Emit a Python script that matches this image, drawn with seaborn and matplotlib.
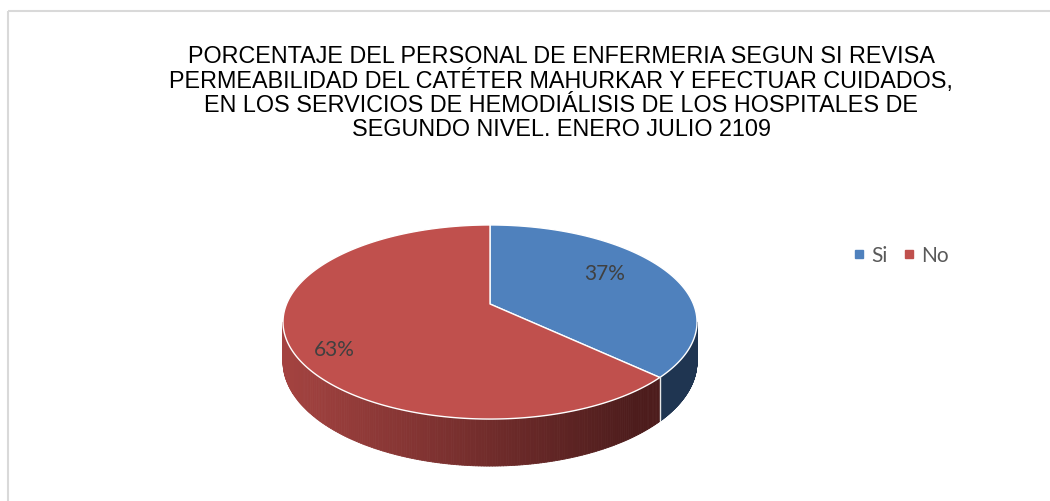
import numpy as np
import matplotlib
matplotlib.use("Agg")
import matplotlib.pyplot as plt
import seaborn as sns
from matplotlib.patches import Polygon, Rectangle
from matplotlib.collections import PolyCollection
from matplotlib.lines import Line2D

# ---- data ----
categories = ["Si", "No"]
percentages = [37, 63]
title_lines = [
    "PORCENTAJE DEL PERSONAL DE ENFERMERIA SEGUN SI REVISA",
    "PERMEABILIDAD DEL CATÉTER MAHURKAR Y EFECTUAR CUIDADOS,",
    "EN LOS SERVICIOS DE HEMODIÁLISIS DE LOS HOSPITALES DE",
    "SEGUNDO NIVEL. ENERO JULIO 2109",
]

# ---- style ----
sns.set_style("white")
top_colors = ["#4F81BD", "#C0504D"]
side_blue = "#1F3551"
red_side_light = np.array([0.64, 0.26, 0.25])
red_side_dark = np.array([0.30, 0.11, 0.11])

# geometry (pixels) of the projected pie
CX, CY = 490.0, 305.0
A, B, K = 203.4, 93.7, 0.1856
H = 38.3


def proj(phi, r=1.0, drop=0.0):
    X = r * np.cos(phi)
    Z = -r * np.sin(phi)
    d = 1 - K * Z
    return CX + A * X / d, CY + B * Z / d + drop / d


fig = plt.figure(figsize=(10.5, 5.02), dpi=100)
ax = fig.add_axes([0, 0, 1, 1])
ax.set_xlim(0, 1050)
ax.set_ylim(502, 0)
ax.axis("off")

# chart border (only top/left visible)
ax.add_patch(Rectangle((8, 12), 1100, 600, fill=False, ec="#D9D9D9", lw=1.5))

# slice angles (start at top, clockwise)
fracs = np.array(percentages, float) / sum(percentages)
starts = np.pi / 2 - 2 * np.pi * np.concatenate([[0], np.cumsum(fracs)[:-1]])
ends = starts - 2 * np.pi * fracs

# visible outer wall range
phi_r = -np.arcsin(K)
phi_l = -np.pi + np.arcsin(K)

for i in range(len(percentages)):
    s, e = starts[i], ends[i]
    ws = min(s, phi_r)
    we = max(e, phi_l)
    if ws > we:
        phis = np.linspace(ws, we, 200)
        polys, cols = [], []
        for j in range(len(phis) - 1):
            p0, p1 = phis[j], phis[j + 1]
            x0, y0 = proj(p0)
            x1, y1 = proj(p1)
            x0b, y0b = proj(p0, drop=H)
            x1b, y1b = proj(p1, drop=H)
            polys.append([(x0, y0), (x1, y1), (x1b, y1b), (x0b, y0b)])
            if i == 0:
                cols.append(side_blue)
            else:
                t = np.clip(((x0 + x1) / 2 - (CX - A)) / (2 * A * 0.86), 0, 1)
                cols.append(tuple(red_side_light * (1 - t) + red_side_dark * t))
        ax.add_collection(PolyCollection(polys, facecolors=cols, edgecolors=cols, lw=0.6))

# boundary line on wall
for e in ends[:-1]:
    if phi_l < e < phi_r:
        x0, y0 = proj(e)
        x1, y1 = proj(e, drop=H)
        ax.plot([x0, x1], [y0, y1], color="#E8E8E8", lw=1.0)

# top faces
for i in range(len(percentages)):
    phis = np.linspace(starts[i], ends[i], 300)
    xs, ys = proj(phis)
    pts = [(CX, CY)] + list(zip(xs, ys))
    ax.add_patch(Polygon(pts, closed=True, fc=top_colors[i], ec="white", lw=1.0, joinstyle="round"))

# percentage labels
label_pos = [(605, 274), (334, 350)]
for (lx, ly), p in zip(label_pos, percentages):
    ax.text(lx, ly, f"{p}%", ha="center", va="center", fontsize=15,
            color="#404040", family="Lato")

# title
ax.text(561, 93, "\n".join(title_lines), ha="center", va="center", fontsize=16.8,
        family="Liberation Sans", color="black", linespacing=1.05)

# legend
handles = [Line2D([], [], marker="s", ls="none", color=c, markersize=6) for c in top_colors]
ax.legend(handles, categories, loc="center left", bbox_to_anchor=(830 / 1050, 1 - 256 / 502),
          ncol=2, frameon=False, handletextpad=0.1, columnspacing=0.5, handlelength=1.0,
          prop={"family": "Lato", "size": 15}, labelcolor="#595959")

fig.savefig("out.png", dpi=100)
